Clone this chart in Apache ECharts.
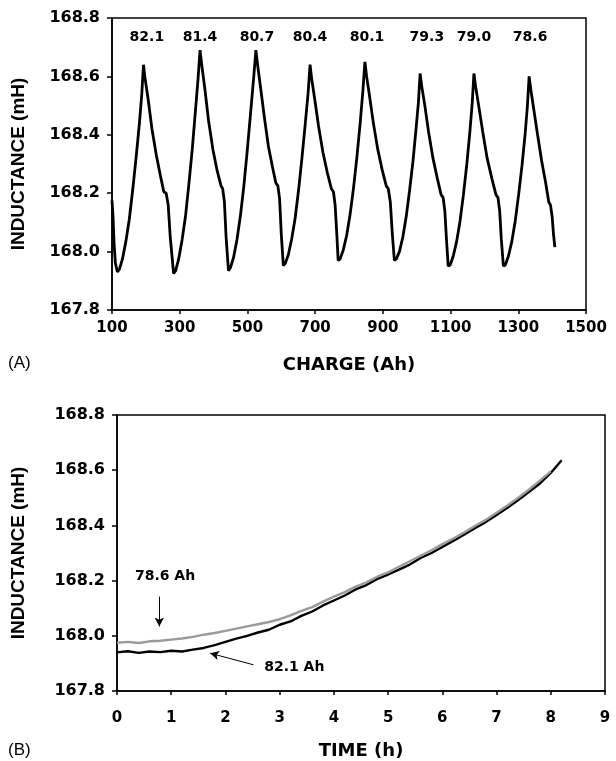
<!DOCTYPE html>
<html><head><meta charset="utf-8">
<script src="https://cdn.jsdelivr.net/npm/echarts@6/dist/echarts.min.js"></script>
<style>html,body{margin:0;padding:0;background:#fff}#c{width:616px;height:761px}</style>
</head><body><div id="c"></div>
<script>
// ---- Panel A: inductance vs charge ----
const chargeAh = [100,103,106,110,116,
 122,131,141,151,161,171,181,188,193,
 198,207,218,231,243,253,260,266,272,282,
 288,297,307,317,327,337,347,354,360,
 365,374,385,398,410,422,427,432,437,444,
 450,459,469,479,489,499,509,518,525,
 530,539,550,562,574,584,590,595,600,606,
 612,621,631,641,651,661,671,679,685,
 690,699,710,723,736,748,754,759,764,768,
 774,783,793,803,813,823,833,841,847,
 852,861,872,885,898,910,916,922,928,934,
 940,949,959,969,979,989,998,1005,1010,
 1015,1024,1035,1048,1061,1072,1078,1083,1088,1093,
 1099,1108,1118,1128,1138,1148,1157,1164,1169,
 1174,1183,1195,1208,1222,1234,1240,1245,1250,1256,
 1262,1271,1281,1291,1301,1311,1320,1327,1332,
 1337,1346,1357,1369,1381,1390,1395,1400,1404,1408];
const inductanceA = [168.175,168.12,168.03,167.96,167.93,
 167.94,167.975,168.035,168.11,168.21,168.32,168.44,168.54,168.64,
 168.59,168.52,168.42,168.33,168.26,168.205,168.20,168.16,168.05,167.925,
 167.935,167.975,168.04,168.12,168.23,168.35,168.49,168.59,168.69,
 168.64,168.56,168.45,168.35,168.28,168.225,168.215,168.17,168.05,167.935,
 167.945,167.98,168.04,168.12,168.22,168.34,168.47,168.59,168.69,
 168.64,168.56,168.46,168.36,168.29,168.235,168.225,168.18,168.06,167.952,
 167.96,167.99,168.045,168.115,168.21,168.32,168.44,168.54,168.64,
 168.59,168.52,168.43,168.34,168.27,168.215,168.205,168.16,168.06,167.97,
 167.975,168.005,168.055,168.125,168.215,168.32,168.44,168.55,168.65,
 168.60,168.53,168.44,168.35,168.28,168.225,168.215,168.17,168.06,167.97,
 167.975,168.0,168.05,168.12,168.21,168.31,168.42,168.51,168.61,
 168.565,168.50,168.41,168.32,168.25,168.195,168.185,168.14,168.04,167.95,
 167.955,167.985,168.035,168.105,168.195,168.30,168.41,168.51,168.61,
 168.565,168.50,168.41,168.32,168.25,168.195,168.185,168.14,168.04,167.95,
 167.955,167.985,168.035,168.105,168.195,168.295,168.40,168.50,168.60,
 168.555,168.485,168.40,168.31,168.235,168.17,168.16,168.12,168.06,168.015];
const capacityLabels = ['82.1','81.4','80.7','80.4','80.1','79.3','79.0','78.6'];
const capacityLabelAh = [203,360,528,685,853,1030,1169,1335];
const capacityLabelLevel = 168.735;

// ---- Panel B: inductance vs time ----
const timeH = [0,0.2,0.4,0.6,0.8,1.0,1.2,1.4,1.6,1.8,2.0,2.2,2.4,2.6,2.8,3.0,3.2,3.4,3.6,3.8,4.0,
 4.2,4.4,4.6,4.8,5.0,5.2,5.4,5.6,5.8,6.0,6.2,6.4,6.6,6.8,7.0,7.2,7.4,7.6,7.8,8.0,8.2];
const inductance821 = [167.940,167.944,167.938,167.943,167.941,167.946,167.943,167.950,167.956,167.966,167.978,
 167.990,168.000,168.012,168.022,168.040,168.052,168.072,168.088,168.110,168.128,
 168.146,168.168,168.184,168.206,168.222,168.240,168.258,168.282,168.300,168.322,
 168.344,168.366,168.390,168.412,168.438,168.464,168.492,168.522,168.552,168.590,168.636];
const inductance786 = [167.975,167.978,167.974,167.980,167.982,167.986,167.990,167.996,168.004,168.010,168.018,
 168.026,168.034,168.042,168.050,168.060,168.074,168.090,168.104,168.124,168.142,
 168.158,168.178,168.194,168.214,168.230,168.250,168.270,168.290,168.310,168.332,
 168.352,168.374,168.398,168.420,168.446,168.472,168.500,168.530,168.562,168.596];
const annotationTexts = ['78.6 Ah','82.1 Ah'];
const annotationPos = [[0.886,168.215],[3.27,167.884]];
const arrowLines = [[[0.78,168.142],[0.78,168.034]],[[2.515,167.895],[1.716,167.937]]];

const FONT = 'Liberation Sans, Arial, Helvetica, sans-serif';
const WFONT = 'DejaVu Sans, Liberation Sans, sans-serif';
const zip = (xs, ys) => ys.map((y, i) => [xs[i], y]);

function xAxisCfg(gi, min, max, interval, name, gap, margin) {
  return {
    gridIndex: gi, type: 'value', min, max, interval,
    name, nameLocation: 'middle', nameGap: gap,
    nameTextStyle: {fontFamily: WFONT, fontWeight: 'bold', fontSize: 18, color: '#000'},
    axisLine: {show: true, onZero: false, lineStyle: {color: '#000', width: 1.5}},
    axisTick: {show: true, inside: false, length: 4, lineStyle: {color: '#000', width: 1.5}},
    axisLabel: {fontFamily: WFONT, fontWeight: 'bold', fontSize: 15, color: '#000', margin,
      formatter: v => String(v)},
    splitLine: {show: false}
  };
}
function yAxisCfg(gi, gap) {
  return {
    gridIndex: gi, type: 'value', min: 167.8, max: 168.8, interval: 0.2,
    name: 'INDUCTANCE (mH)', nameLocation: 'middle', nameGap: gap, nameRotate: 90,
    nameTextStyle: {fontFamily: FONT, fontWeight: 'bold', fontSize: 19, color: '#000'},
    axisLine: {show: true, onZero: false, lineStyle: {color: '#000', width: 1.5}},
    axisTick: {show: true, inside: false, length: 5, lineStyle: {color: '#000', width: 1.5}},
    axisLabel: {fontFamily: WFONT, fontWeight: 'bold', fontSize: 16, color: '#000', margin: 12,
      formatter: v => v.toFixed(1)},
    splitLine: {show: false}
  };
}

const chart = echarts.init(document.getElementById('c'), null, {renderer: 'canvas'});
chart.setOption({
  animation: false,
  backgroundColor: '#fff',
  grid: [
    {left: 112, top: 18, right: 30, bottom: 451, show: true, borderColor: '#000', borderWidth: 1.5},
    {left: 117, top: 415, right: 11, bottom: 69, show: true, borderColor: '#000', borderWidth: 1.5}
  ],
  xAxis: [xAxisCfg(0, 100, 1500, 200, 'CHARGE (Ah)', 46, 11), xAxisCfg(1, 0, 9, 1, 'TIME (h)', 51, 20)],
  yAxis: [yAxisCfg(0, 84), yAxisCfg(1, 89)],
  graphic: [
    {type: 'text', left: 8, top: 355, style: {text: '(A)', font: '17px ' + FONT, fill: '#000'}},
    {type: 'text', left: 8, top: 742, style: {text: '(B)', font: '17px ' + FONT, fill: '#000'}}
  ],
  series: [
    {type: 'line', xAxisIndex: 0, yAxisIndex: 0, data: zip(chargeAh, inductanceA),
      showSymbol: false, symbol: 'none', lineStyle: {color: '#000', width: 2.8}},
    {type: 'scatter', xAxisIndex: 0, yAxisIndex: 0, symbolSize: 0, itemStyle: {opacity: 1},
      data: capacityLabels.map((t, i) => ({value: [capacityLabelAh[i], capacityLabelLevel], name: t})),
      label: {show: true, position: 'inside', formatter: p => p.name, opacity: 1,
        fontFamily: WFONT, fontWeight: 'bold', fontSize: 14, color: '#000'}},
    {type: 'line', xAxisIndex: 1, yAxisIndex: 1, data: zip(timeH, inductance821),
      showSymbol: false, symbol: 'none', lineStyle: {color: '#000', width: 2.4},
      markLine: {silent: true, symbol: ['none', 'arrow'], symbolSize: [7, 9],
        lineStyle: {color: '#000', width: 1, type: 'solid'}, label: {show: false},
        data: arrowLines.map(l => [{coord: l[0]}, {coord: l[1]}])}},
    {type: 'line', xAxisIndex: 1, yAxisIndex: 1, data: zip(timeH, inductance786),
      showSymbol: false, symbol: 'none', lineStyle: {color: '#9a9a9a', width: 2.4}},
    {type: 'scatter', xAxisIndex: 1, yAxisIndex: 1, symbolSize: 0, itemStyle: {opacity: 1},
      data: annotationTexts.map((t, i) => ({value: annotationPos[i], name: t})),
      label: {show: true, position: 'inside', formatter: p => p.name, opacity: 1,
        fontFamily: WFONT, fontWeight: 'bold', fontSize: 14, color: '#000'}}
  ]
});
</script></body></html>
